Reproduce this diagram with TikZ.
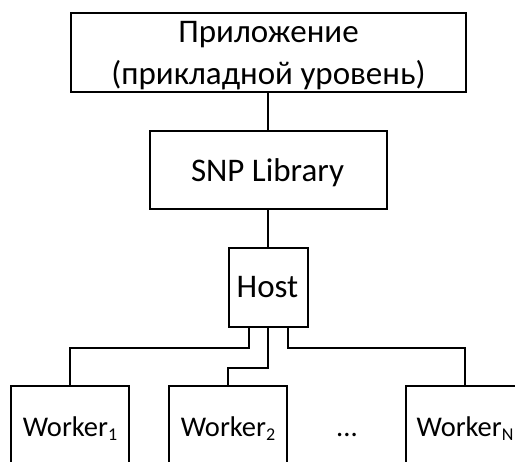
\documentclass[tikz,border=0pt]{standalone}
\usepackage{fontspec}
\setmainfont{Carlito}
\newcommand{\wsub}[1]{\raisebox{-3.5pt}{\fontsize{18}{18}\selectfont #1}}
\begin{document}
\begin{tikzpicture}[x=1pt,y=1pt,
  box/.style={draw=black,line width=2pt,rectangle,inner sep=0pt},
  big/.style={inner sep=0pt,anchor=base,font=\fontsize{33}{42}\selectfont},
  small/.style={inner sep=0pt,anchor=base,font=\fontsize{28.5}{34}\selectfont},
  wbox/.style={box,minimum width=118pt,minimum height=84pt},
  conn/.style={line width=2pt,line join=miter}]
\clip (0,0) rectangle (515,-462);
\fill[white] (0,0) rectangle (515,-462);
\node[box,minimum width=395pt,minimum height=79pt] (app) at (268,-52.5) {};
\node[big] (appt1) at (268.5,-43) {Приложение};
\node[big] (appt2) at (268.5,-85) {(прикладной уровень)};
\node[box,minimum width=237pt,minimum height=78pt] (snp) at (268,-170) {};
\node[big] (snpt) at (267.5,-182) {SNP Library};
\node[box,minimum width=79pt,minimum height=79pt] (host) at (268,-287.5) {};
\node[big] (hostt) at (267.5,-298) {Host};
\node[wbox] (w1) at (70,-428) {};
\node[wbox] (w2) at (228,-428) {};
\node[wbox] (wn) at (465,-428) {};
\node[small] (w1t) at (70,-437) {Worker\wsub{1}};
\node[small] (w2t) at (228,-437) {Worker\wsub{2}};
\node[small] (wnt) at (465,-437) {Worker\wsub{N}};
\node[small] (dots) at (347,-437) {...};
\draw[conn] (app.south) -- (snp.north);
\draw[conn] (snp.south) -- (host.north);
\draw[conn] ([xshift=-19.5pt]host.south) -- ++(0,-20pt) -| (w1.north);
\draw[conn] (host.south) -- ++(0,-40pt) -| (w2.north);
\draw[conn] ([xshift=19.5pt]host.south) -- ++(0,-20pt) -| (wn.north);
\end{tikzpicture}
\end{document}
